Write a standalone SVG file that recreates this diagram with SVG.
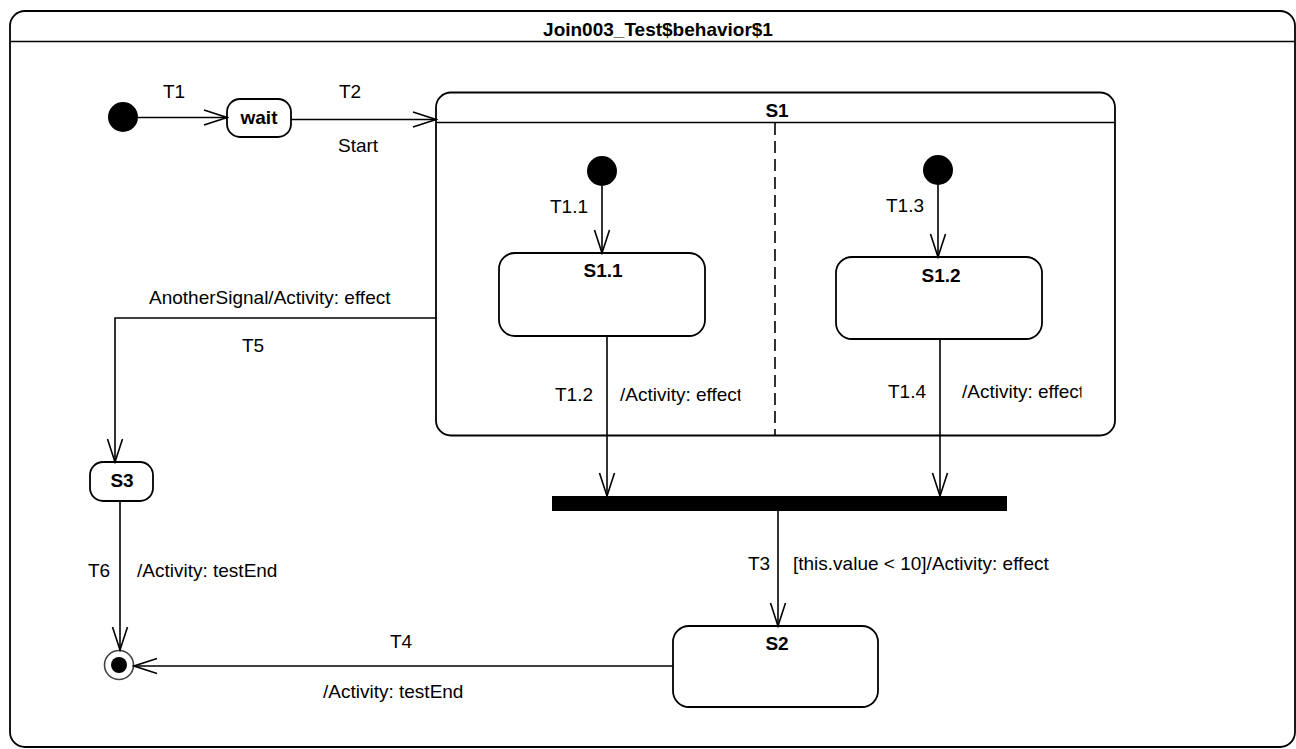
<svg xmlns="http://www.w3.org/2000/svg" width="1296" height="749" viewBox="0 0 1296 749">
<style>
text{font-family:"Liberation Sans",Arial,sans-serif;font-size:19px;fill:#000}
.b{font-weight:bold;text-anchor:middle}
.box{fill:#fff;stroke:#000;stroke-width:1.8}
.ln{fill:none;stroke:#000;stroke-width:1.6}
.init{fill:#000}
</style>
<defs>
<marker id="arr" viewBox="-25 -10 27 20" refX="0" refY="0" markerWidth="27" markerHeight="20" markerUnits="userSpaceOnUse" orient="auto">
<path d="M-23,-7.5 L0,0 L-23,7.5" fill="none" stroke="#000" stroke-width="1.6"/>
</marker>
<clipPath id="c1"><rect x="600" y="370" width="140.5" height="40"/></clipPath>
<clipPath id="c2"><rect x="950" y="370" width="131.5" height="40"/></clipPath>
</defs>
<g id="frame">
<rect class="box" x="10" y="11" width="1285" height="736" rx="15"/>
<line class="ln" x1="10" y1="41.5" x2="1295" y2="41.5" stroke-width="1.8"/>
<text class="b" x="658" y="36">Join003_Test$behavior$1</text>
</g>
<g id="S1">
<rect class="box" x="436" y="92.5" width="679" height="343" rx="15"/>
<line class="ln" x1="436" y1="122.5" x2="1115" y2="122.5"/>
<line x1="775" y1="123" x2="775" y2="435" stroke="#000" stroke-width="1.6" stroke-dasharray="12,6"/>
<text class="b" x="777" y="117">S1</text>
</g>
<g id="init1"><circle class="init" cx="123" cy="117" r="15"/></g>
<g id="wait">
<rect class="box" x="227" y="99" width="64" height="38" rx="13"/>
<text class="b" x="259" y="124">wait</text>
</g>
<g id="init2"><circle class="init" cx="602" cy="171" r="15"/></g>
<g id="init3"><circle class="init" cx="938" cy="170" r="15"/></g>
<g id="S1.1">
<rect class="box" x="499" y="253" width="206" height="83" rx="16"/>
<text class="b" x="603" y="277">S1.1</text>
</g>
<g id="S1.2">
<rect class="box" x="836" y="257" width="206" height="82" rx="16"/>
<text class="b" x="941" y="282">S1.2</text>
</g>
<g id="join"><rect x="552" y="496" width="455" height="15" fill="#000"/></g>
<g id="S2">
<rect class="box" x="673" y="626" width="205" height="81" rx="16"/>
<text class="b" x="777" y="650">S2</text>
</g>
<g id="S3">
<rect class="box" x="90" y="462" width="63" height="39" rx="13"/>
<text class="b" x="122" y="487">S3</text>
</g>
<g id="final">
<circle cx="119" cy="665" r="14.5" fill="#fff" stroke="#444" stroke-width="1.6"/>
<circle cx="119" cy="665" r="8" fill="#000"/>
</g>
<g id="connectors">
<path class="ln" d="M138,117.5 L227,117.5" marker-end="url(#arr)"/>
<path class="ln" d="M291,119.5 L436,119.5" marker-end="url(#arr)"/>
<path class="ln" d="M602,186 L602,253" marker-end="url(#arr)"/>
<path class="ln" d="M938,185 L938,257" marker-end="url(#arr)"/>
<path class="ln" d="M607,336 L607,496" marker-end="url(#arr)"/>
<path class="ln" d="M940,339 L940,496" marker-end="url(#arr)"/>
<path class="ln" d="M778,511 L778,626" marker-end="url(#arr)"/>
<path class="ln" d="M673,666 L134,666" marker-end="url(#arr)"/>
<path class="ln" d="M436,318 L115,318 L115,462" marker-end="url(#arr)"/>
<path class="ln" d="M120,501 L120,650" marker-end="url(#arr)"/>
</g>
<g id="labels">
<text x="163" y="98">T1</text>
<text x="339" y="98">T2</text>
<text x="338" y="152">Start</text>
<text x="550" y="213">T1.1</text>
<text x="886" y="212">T1.3</text>
<text x="555" y="401">T1.2</text>
<text x="620" y="401" clip-path="url(#c1)">/Activity: effect</text>
<text x="888" y="398">T1.4</text>
<text x="962" y="398" clip-path="url(#c2)">/Activity: effect</text>
<text x="149" y="304">AnotherSignal/Activity: effect</text>
<text x="242" y="352">T5</text>
<text x="748" y="570">T3</text>
<text x="793" y="570">[this.value &lt; 10]/Activity: effect</text>
<text x="88" y="577">T6</text>
<text x="137" y="577">/Activity: testEnd</text>
<text x="390" y="648">T4</text>
<text x="323" y="698">/Activity: testEnd</text>
</g>
</svg>
